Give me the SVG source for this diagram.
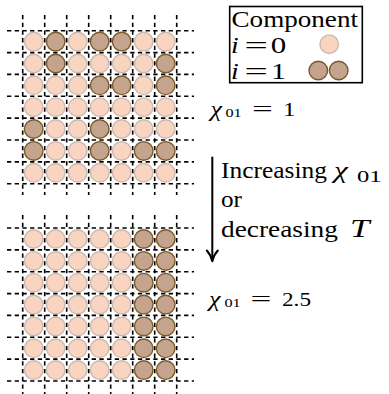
<svg xmlns="http://www.w3.org/2000/svg" width="389" height="394" viewBox="0 0 389 394">
<defs>
<circle id="cl" r="9.3" fill="#F9D5C1" stroke="#B9AAA2" stroke-opacity="0.75" stroke-width="1.4"/>
<circle id="cd" r="9.3" fill="#C4A48C" stroke="#7A5A2C" stroke-width="1.4"/>
</defs>
<rect width="389" height="394" fill="#fff"/>

<g id="lattice-top">
<g id="top-row0">
<use href="#cl" x="33.7" y="41.6"/><use href="#cd" x="55.7" y="41.6"/><use href="#cl" x="77.7" y="41.6"/><use href="#cd" x="99.7" y="41.6"/><use href="#cd" x="121.7" y="41.6"/><use href="#cl" x="143.7" y="41.6"/><use href="#cl" x="165.7" y="41.6"/>
</g>
<g id="top-row1">
<use href="#cl" x="33.7" y="63.5"/><use href="#cd" x="55.7" y="63.5"/><use href="#cl" x="77.7" y="63.5"/><use href="#cl" x="99.7" y="63.5"/><use href="#cl" x="121.7" y="63.5"/><use href="#cl" x="143.7" y="63.5"/><use href="#cd" x="165.7" y="63.5"/>
</g>
<g id="top-row2">
<use href="#cl" x="33.7" y="85.3"/><use href="#cl" x="55.7" y="85.3"/><use href="#cl" x="77.7" y="85.3"/><use href="#cd" x="99.7" y="85.3"/><use href="#cd" x="121.7" y="85.3"/><use href="#cl" x="143.7" y="85.3"/><use href="#cd" x="165.7" y="85.3"/>
</g>
<g id="top-row3">
<use href="#cl" x="33.7" y="107.2"/><use href="#cl" x="55.7" y="107.2"/><use href="#cl" x="77.7" y="107.2"/><use href="#cl" x="99.7" y="107.2"/><use href="#cl" x="121.7" y="107.2"/><use href="#cl" x="143.7" y="107.2"/><use href="#cl" x="165.7" y="107.2"/>
</g>
<g id="top-row4">
<use href="#cd" x="33.7" y="129.0"/><use href="#cl" x="55.7" y="129.0"/><use href="#cl" x="77.7" y="129.0"/><use href="#cd" x="99.7" y="129.0"/><use href="#cl" x="121.7" y="129.0"/><use href="#cl" x="143.7" y="129.0"/><use href="#cl" x="165.7" y="129.0"/>
</g>
<g id="top-row5">
<use href="#cd" x="33.7" y="150.9"/><use href="#cl" x="55.7" y="150.9"/><use href="#cl" x="77.7" y="150.9"/><use href="#cd" x="99.7" y="150.9"/><use href="#cl" x="121.7" y="150.9"/><use href="#cd" x="143.7" y="150.9"/><use href="#cd" x="165.7" y="150.9"/>
</g>
<g id="top-row6">
<use href="#cl" x="33.7" y="172.8"/><use href="#cl" x="55.7" y="172.8"/><use href="#cl" x="77.7" y="172.8"/><use href="#cl" x="99.7" y="172.8"/><use href="#cl" x="121.7" y="172.8"/><use href="#cl" x="143.7" y="172.8"/><use href="#cl" x="165.7" y="172.8"/>
</g>
<g id="top-grid" stroke="#000" stroke-width="1.6" stroke-dasharray="4.3 3.4" fill="none">
<path d="M7,30.7H194M7,52.6H194M7,74.4H194M7,96.3H194M7,118.1H194M7,140H194M7,161.9H194M7,183.7H194"/>
<path d="M22.7,15V195M44.7,15V195M66.7,15V195M88.7,15V195M110.7,15V195M132.7,15V195M154.7,15V195M176.7,15V195"/>
</g>
</g>

<g id="lattice-bottom">
<g id="bottom-circles">
<g id="bot-row0"><use href="#cl" x="33.7" y="239"/><use href="#cl" x="55.7" y="239"/><use href="#cl" x="77.7" y="239"/><use href="#cl" x="99.7" y="239"/><use href="#cl" x="121.7" y="239"/><use href="#cd" x="143.7" y="239"/><use href="#cd" x="165.7" y="239"/></g>
<g id="bot-row1"><use href="#cl" x="33.7" y="260.9"/><use href="#cl" x="55.7" y="260.9"/><use href="#cl" x="77.7" y="260.9"/><use href="#cl" x="99.7" y="260.9"/><use href="#cl" x="121.7" y="260.9"/><use href="#cd" x="143.7" y="260.9"/><use href="#cd" x="165.7" y="260.9"/></g>
<g id="bot-row2"><use href="#cl" x="33.7" y="282.7"/><use href="#cl" x="55.7" y="282.7"/><use href="#cl" x="77.7" y="282.7"/><use href="#cl" x="99.7" y="282.7"/><use href="#cl" x="121.7" y="282.7"/><use href="#cd" x="143.7" y="282.7"/><use href="#cd" x="165.7" y="282.7"/></g>
<g id="bot-row3"><use href="#cl" x="33.7" y="304.6"/><use href="#cl" x="55.7" y="304.6"/><use href="#cl" x="77.7" y="304.6"/><use href="#cl" x="99.7" y="304.6"/><use href="#cl" x="121.7" y="304.6"/><use href="#cd" x="143.7" y="304.6"/><use href="#cd" x="165.7" y="304.6"/></g>
<g id="bot-row4"><use href="#cl" x="33.7" y="326.4"/><use href="#cl" x="55.7" y="326.4"/><use href="#cl" x="77.7" y="326.4"/><use href="#cl" x="99.7" y="326.4"/><use href="#cl" x="121.7" y="326.4"/><use href="#cd" x="143.7" y="326.4"/><use href="#cd" x="165.7" y="326.4"/></g>
<g id="bot-row5"><use href="#cl" x="33.7" y="348.3"/><use href="#cl" x="55.7" y="348.3"/><use href="#cl" x="77.7" y="348.3"/><use href="#cl" x="99.7" y="348.3"/><use href="#cl" x="121.7" y="348.3"/><use href="#cd" x="143.7" y="348.3"/><use href="#cd" x="165.7" y="348.3"/></g>
<g id="bot-row6"><use href="#cl" x="33.7" y="370.1"/><use href="#cl" x="55.7" y="370.1"/><use href="#cl" x="77.7" y="370.1"/><use href="#cl" x="99.7" y="370.1"/><use href="#cl" x="121.7" y="370.1"/><use href="#cd" x="143.7" y="370.1"/><use href="#cd" x="165.7" y="370.1"/></g>
</g>
<g id="bottom-grid" stroke="#000" stroke-width="1.6" stroke-dasharray="4.3 3.4" fill="none">
<path d="M7,228H194M7,249.9H194M7,271.7H194M7,293.6H194M7,315.4H194M7,337.3H194M7,359.1H194M7,381H194"/>
<path d="M22.7,215V394M44.7,215V394M66.7,215V394M88.7,215V394M110.7,215V394M132.7,215V394M154.7,215V394M176.7,215V394"/>
</g>
</g>

<g id="legend">
<rect x="229.7" y="6.5" width="132.6" height="76.2" fill="#fff" stroke="#000" stroke-width="1.6"/>
<text font-family="Liberation Serif" font-size="24" transform="translate(231.5 27.3) scale(1.13 1)">Component</text>
<text font-family="Liberation Serif" font-style="italic" font-size="23" transform="translate(231 53.3) scale(1.2 1)">i</text>
<text font-family="Liberation Serif" font-size="23" transform="translate(244.5 53.3) scale(1.8 1)">=</text>
<text font-family="Liberation Serif" font-size="23" transform="translate(270.8 53.3) scale(1.35 1)">0</text>
<text font-family="Liberation Serif" font-style="italic" font-size="23" transform="translate(231 79) scale(1.2 1)">i</text>
<text font-family="Liberation Serif" font-size="23" transform="translate(244.5 79) scale(1.8 1)">=</text>
<text font-family="Liberation Serif" font-size="23" transform="translate(271 79) scale(1.3 1)">1</text>
<use href="#cl" x="329.2" y="44.2"/>
<use href="#cd" x="318.3" y="70.5"/>
<use href="#cd" x="338.7" y="70.5"/>
</g>

<g id="label-top">
<text font-family="Liberation Serif" font-style="italic" font-size="20" transform="translate(210.5 116) scale(1.3 1)">χ</text>
<text font-family="Liberation Serif" font-size="13.5" transform="translate(225.5 117) scale(1.2 1)">01</text>
<text font-family="Liberation Serif" font-size="20" transform="translate(252 116) scale(1.85 1)">=</text>
<text font-family="Liberation Serif" font-size="19.5" transform="translate(283 116) scale(1.28 1)">1</text>
</g>

<g id="connectors">
<path d="M212.3,156.7V259.5" stroke="#000" stroke-width="2" fill="none"/>
<path d="M206.8,250.5C209.5,253.5 211.5,257 212.3,261.2C213.1,257 215.1,253.5 217.8,250.5" stroke="#000" stroke-width="2" fill="none" stroke-linecap="round" stroke-linejoin="round"/>
</g>

<g id="arrow-label">
<text font-family="Liberation Serif" font-size="24" transform="translate(221 178.3) scale(1.06 1)">Increasing</text>
<text font-family="Liberation Serif" font-style="italic" font-size="24" transform="translate(334 178.3) scale(1.3 1)">χ</text>
<text font-family="Liberation Serif" font-size="17" transform="translate(357 182) scale(1.45 1)">01</text>
<text font-family="Liberation Serif" font-size="24" transform="translate(221 206.7) scale(1.05 1)">or</text>
<text font-family="Liberation Serif" font-size="24" transform="translate(221 236.7) scale(1.14 1)">decreasing</text>
<text font-family="Liberation Serif" font-style="italic" font-size="25" transform="translate(350 236.7) scale(1.4 1)">T</text>
</g>

<g id="label-bottom">
<text font-family="Liberation Serif" font-style="italic" font-size="20" transform="translate(209 306) scale(1.3 1)">χ</text>
<text font-family="Liberation Serif" font-size="13.5" transform="translate(224.5 307) scale(1.2 1)">01</text>
<text font-family="Liberation Serif" font-size="20" transform="translate(250.5 306) scale(1.85 1)">=</text>
<text font-family="Liberation Serif" font-size="19.5" transform="translate(282 306) scale(1.19 1)">2.5</text>
</g>
</svg>
